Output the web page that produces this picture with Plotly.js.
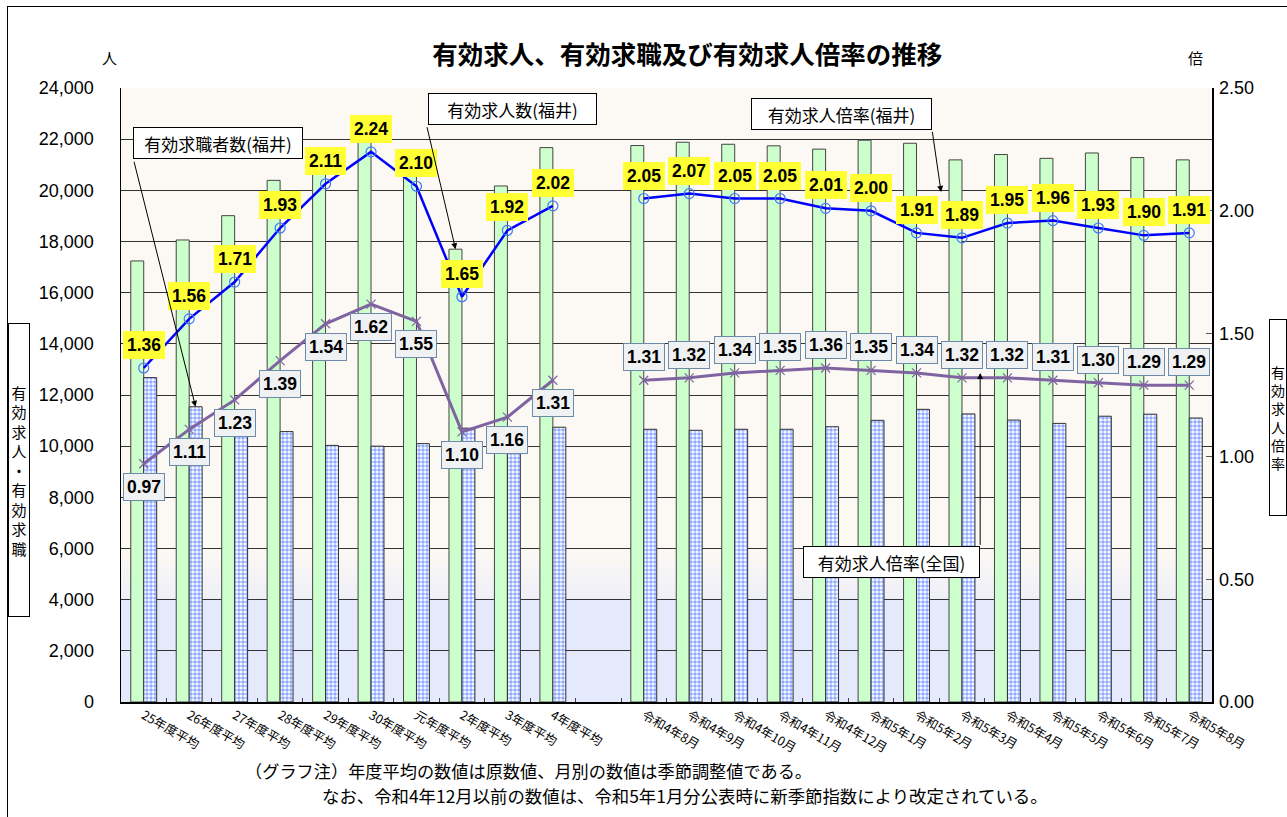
<!DOCTYPE html>
<html>
<head>
<meta charset="utf-8">
<script src="https://cdn.plot.ly/plotly-3.0.1.min.js"></script>
<style>
html,body{margin:0;padding:0;background:#fff;}
#wrap{position:relative;width:1287px;height:817px;overflow:hidden;}
#chart{width:1287px;height:817px;}
#frame{position:absolute;left:7px;top:6px;width:1300px;height:830px;border-left:1.5px solid #000;border-top:1.5px solid #000;pointer-events:none;}
</style>
</head>
<body>
<div id="wrap"><div id="chart"></div><div id="frame"></div></div>
<script>
// ---- data ----
const categories = ['25年度平均','26年度平均','27年度平均','28年度平均','29年度平均','30年度平均','元年度平均','2年度平均','3年度平均','4年度平均',' ',
  '令和4年8月','令和4年9月','令和4年10月','令和4年11月','令和4年12月','令和5年1月','令和5年2月','令和5年3月','令和5年4月','令和5年5月','令和5年6月','令和5年7月','令和5年8月'];
const jobOpenings = [17240,18060,19010,20390,21170,22400,21200,17700,20170,21670,null,
  21750,21880,21800,21740,21610,21960,21840,21190,21400,21250,21460,21280,21190];
const jobSeekers = [12680,11540,11120,10570,10030,10000,10100,10700,10500,10740,null,
  10660,10620,10660,10660,10760,11010,11440,11260,11020,10890,11170,11250,11100];
const ratioFukui = [1.36,1.56,1.71,1.93,2.11,2.24,2.10,1.65,1.92,2.02,null,
  2.05,2.07,2.05,2.05,2.01,2.00,1.91,1.89,1.95,1.96,1.93,1.90,1.91];
const ratioNational = [0.97,1.11,1.23,1.39,1.54,1.62,1.55,1.10,1.16,1.31,null,
  1.31,1.32,1.34,1.35,1.36,1.35,1.34,1.32,1.32,1.31,1.30,1.29,1.29];
const annualCount = 10;

const numFont = 'Liberation Sans, Arial, Noto Sans CJK JP, sans-serif';
const jpFont = 'Noto Sans CJK JP, sans-serif';

const traces = [
  {type:'bar', x:categories, y:jobOpenings, name:'有効求人数(福井)',
   marker:{color:'#ccffcc', line:{color:'#444', width:1}}, hoverinfo:'x+y'},
  {type:'bar', x:categories, y:jobSeekers, name:'有効求職者数(福井)',
   marker:{color:'#ffffff', line:{color:'#333', width:1},
     pattern:{shape:'.', fgcolor:'#2255ff', bgcolor:'#ffffff', size:4, solidity:0.62, fillmode:'overlay'}}, hoverinfo:'x+y'},
  {type:'scatter', mode:'lines+markers', x:categories, y:ratioFukui, yaxis:'y2', name:'有効求人倍率(福井)',
   line:{color:'#0000ff', width:2.5}, marker:{symbol:'circle-open', size:10, color:'#3a78ff', line:{width:1.2, color:'#3a78ff'}},
   connectgaps:false},
  {type:'scatter', mode:'lines+markers', x:categories, y:ratioNational, yaxis:'y2', name:'有効求人倍率(全国)',
   line:{color:'#8064a2', width:3}, marker:{symbol:'x-thin-open', size:9, color:'#8064a2', line:{width:1.2, color:'#8064a2'}},
   connectgaps:false}
];

const annotations = [];
// data labels
ratioFukui.forEach((v,i)=>{
  if(v===null) return;
  annotations.push({x:categories[i], y:v, xref:'x', yref:'y2', text:'<b>'+v.toFixed(2)+'</b>', showarrow:false,
    yshift:23, yanchor:'middle', bgcolor:'#ffff33', bordercolor:'#ffff33', borderwidth:1, borderpad:3,
    font:{family:numFont, size:17.5, color:'#000'}});
});
ratioNational.forEach((v,i)=>{
  if(v===null) return;
  annotations.push({x:categories[i], y:v, xref:'x', yref:'y2', text:'<b>'+v.toFixed(2)+'</b>', showarrow:false,
    yshift: i<annualCount ? -23 : 23, yanchor:'middle', bgcolor:'#eff1f3', bordercolor:'#6d8aa8', borderwidth:1, borderpad:3,
    font:{family:numFont, size:17.5, color:'#000'}});
});
// callout boxes
function box(text,x,y,w){
  annotations.push({xref:'paper', yref:'paper', x:x, y:y, text:text, showarrow:false, xanchor:'center', yanchor:'middle',
    width:w, height:22, align:'center',
    bgcolor:'#ffffff', bordercolor:'#000', borderwidth:1, borderpad:4, font:{family:jpFont, size:17, color:'#000'}});
}
box('有効求職者数(福井)', 0.0889, 0.9104, 160);
box('有効求人数(福井)', 0.3589, 0.9666, 159);
box('有効求人倍率(福井)', 0.6604, 0.9577, 171);
box('有効求人倍率(全国)', 0.7062, 0.228, 167);
// arrows
function arrow(x,yv,yref,ax,ay){
  annotations.push({x:x, y:yv, xref:'x', yref:yref, ax:ax, ay:ay, text:' ', font:{size:1},
    showarrow:true, arrowhead:2, arrowsize:1.2, arrowwidth:1, arrowcolor:'#000', standoff:0, startstandoff:0});
}
arrow(1.14, jobSeekers[1], 'y', -62, -247);
arrow(6.86, jobOpenings[7], 'y', -29, -124);
arrow(17.54, 2.077, 'y2', -9, -62);
arrow(18.4, 1.34, 'y2', 0, 174);
// units
annotations.push({xref:'paper', yref:'paper', x:(100-121)/1091, y:(702-45)/614, text:'人', showarrow:false, font:{family:jpFont, size:15, color:'#000'}});
annotations.push({xref:'paper', yref:'paper', x:(1205-121)/1091, y:(702-45)/614, text:'倍', showarrow:false, font:{family:jpFont, size:15, color:'#000'}});
// axis titles (vertical boxes)
annotations.push({xref:'paper', yref:'paper', x:(19-121)/1091, y:(702-470)/614, xanchor:'center', yanchor:'middle',
  text:'有<br>効<br>求<br>人<br>・<br>有<br>効<br>求<br>職', showarrow:false, width:20, height:292,
  bordercolor:'#000', borderwidth:1, borderpad:0, bgcolor:'#fff', font:{family:jpFont, size:15, color:'#000'}});
annotations.push({xref:'paper', yref:'paper', x:(1269-121)/1091, y:(702-417)/614, xanchor:'left', yanchor:'middle',
  text:'有<br>効<br>求<br>人<br>倍<br>率', showarrow:false, width:14, height:193, align:'left',
  bordercolor:'#000', borderwidth:1, borderpad:1, bgcolor:'#fff', font:{family:jpFont, size:14, color:'#000'}});
// footnotes
annotations.push({xref:'paper', yref:'paper', x:(243-121)/1091, y:(702-770)/614, xanchor:'left', yanchor:'middle',
  text:'（グラフ注）年度平均の数値は原数値、月別の数値は季節調整値である。', showarrow:false, font:{family:jpFont, size:17.2, color:'#000'}});
annotations.push({xref:'paper', yref:'paper', x:(320-121)/1091, y:(702-795)/614, xanchor:'left', yanchor:'middle',
  text:'なお、令和4年12月以前の数値は、令和5年1月分公表時に新季節指数により改定されている。', showarrow:false, font:{family:jpFont, size:17.4, color:'#000'}});

// background gradient bands
const shapes = [];
const bgTop = [252,248,243], bgMid=[238,238,248], bgLow=[228,233,251];
const steps = 10;
for(let k=0;k<steps;k++){
  const t=(k+0.5)/steps;
  const c = bgTop.map((v,j)=>Math.round(v+(bgMid[j]-v)*t));
  shapes.push({type:'rect', xref:'paper', yref:'y', x0:0, x1:1, y0:6000-(k+1)*200, y1:6000-k*200,
    fillcolor:'rgb('+c.join(',')+')', line:{width:0}, layer:'below'});
}
shapes.push({type:'rect', xref:'paper', yref:'y', x0:0, x1:1, y0:0, y1:4000, fillcolor:'rgb('+bgLow.join(',')+')', line:{width:0}, layer:'below'});

const layout = {
  width:1287, height:817,
  margin:{l:121, r:75, t:88, b:115},
  paper_bgcolor:'#ffffff', plot_bgcolor:'#fcf8f3',
  showlegend:false,
  barmode:'group', bargap:0.43, bargroupgap:0,
  title:{text:'<b>有効求人、有効求職及び有効求人倍率の推移</b>', x:0.534, xanchor:'center', y:1-55/817, yanchor:'middle',
    font:{family:jpFont, size:25.5, color:'#000'}},
  font:{family:numFont, color:'#000'},
  xaxis:{type:'category', tickangle:30, tickfont:{family:jpFont, size:12.5, color:'#000'}, showline:true, linecolor:'#000', linewidth:1.5,
    ticks:'inside', tickson:'boundaries', ticklen:4, tickcolor:'#444', showgrid:false, range:[-0.5,23.5], fixedrange:true},
  yaxis:{range:[0,24000], dtick:2000, tickformat:',', gridcolor:'#333', gridwidth:1, showline:true, linecolor:'#000', linewidth:1.5,
    ticks:'', ticklabelstandoff:22, tickfont:{family:numFont, size:18, color:'#000'}, zeroline:false, fixedrange:true},
  yaxis2:{range:[0,2.5], dtick:0.5, tickformat:'.2f', overlaying:'y', side:'right', showgrid:false, showline:true, linecolor:'#000', linewidth:1.5,
    ticks:'inside', ticklen:6, tickcolor:'#555', ticklabelstandoff:2, tickfont:{family:numFont, size:18, color:'#000'}, zeroline:false, fixedrange:true},
  annotations:annotations,
  shapes:shapes
};
Plotly.newPlot('chart', traces, layout, {displayModeBar:false, staticPlot:true});
</script>
</body>
</html>
